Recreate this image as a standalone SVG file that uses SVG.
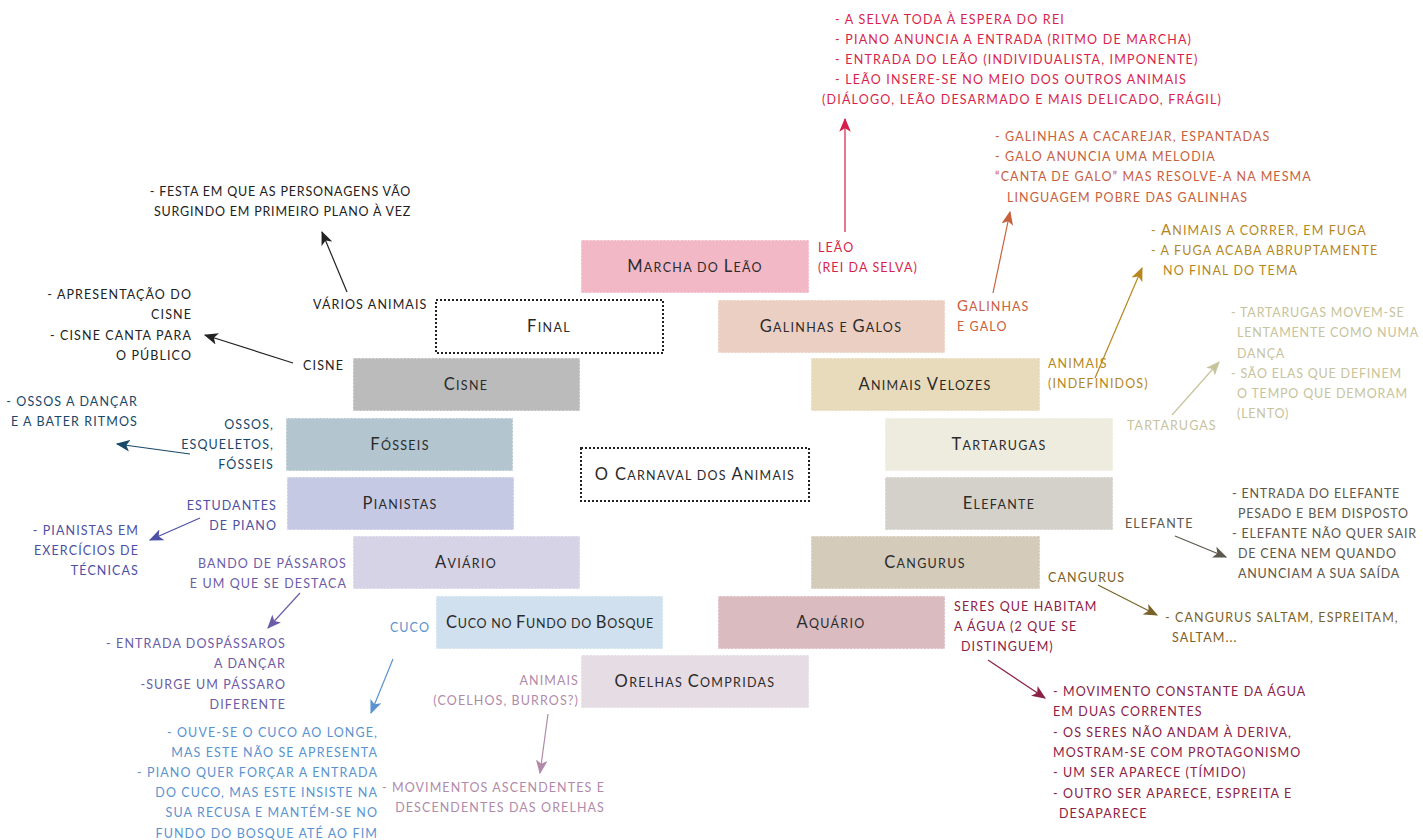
<svg xmlns="http://www.w3.org/2000/svg" width="1423" height="840" viewBox="0 0 1423 840">
<style>
.t{font-family:Lato,"Open Sans","Liberation Sans",sans-serif;font-size:12.5px;letter-spacing:1.1px}
.tn{letter-spacing:0.8px}
.e{text-anchor:end}
.n{font-family:Lato,"Open Sans","Liberation Sans",sans-serif;font-size:12.5px;letter-spacing:1.3px;fill:#2b2b2b;text-anchor:middle}
.b{font-size:16.5px}
.bs{font-size:15px}
.box{stroke:#fff;stroke-opacity:.6;stroke-width:1.5;stroke-dasharray:2 1.5}
.dot{fill:#fff;stroke:#222;stroke-width:2;stroke-dasharray:2 2}
.c line{stroke-width:1.2;fill:none}
</style>
<defs>
<marker id="m1" viewBox="0 0 12 10" refX="11" refY="5" markerWidth="14" markerHeight="12" markerUnits="userSpaceOnUse" orient="auto"><path d="M0,0 L12,5 L0,10 L3,5 z" fill="#d81f4c"/></marker>
<marker id="m2" viewBox="0 0 12 10" refX="11" refY="5" markerWidth="14" markerHeight="12" markerUnits="userSpaceOnUse" orient="auto"><path d="M0,0 L12,5 L0,10 L3,5 z" fill="#c8603e"/></marker>
<marker id="m3" viewBox="0 0 12 10" refX="11" refY="5" markerWidth="14" markerHeight="12" markerUnits="userSpaceOnUse" orient="auto"><path d="M0,0 L12,5 L0,10 L3,5 z" fill="#222"/></marker>
<marker id="m4" viewBox="0 0 12 10" refX="11" refY="5" markerWidth="14" markerHeight="12" markerUnits="userSpaceOnUse" orient="auto"><path d="M0,0 L12,5 L0,10 L3,5 z" fill="#17486a"/></marker>
<marker id="m5" viewBox="0 0 12 10" refX="11" refY="5" markerWidth="14" markerHeight="12" markerUnits="userSpaceOnUse" orient="auto"><path d="M0,0 L12,5 L0,10 L3,5 z" fill="#4b50a4"/></marker>
<marker id="m6" viewBox="0 0 12 10" refX="11" refY="5" markerWidth="14" markerHeight="12" markerUnits="userSpaceOnUse" orient="auto"><path d="M0,0 L12,5 L0,10 L3,5 z" fill="#6c5ca8"/></marker>
<marker id="m7" viewBox="0 0 12 10" refX="11" refY="5" markerWidth="14" markerHeight="12" markerUnits="userSpaceOnUse" orient="auto"><path d="M0,0 L12,5 L0,10 L3,5 z" fill="#5a93cf"/></marker>
<marker id="m8" viewBox="0 0 12 10" refX="11" refY="5" markerWidth="14" markerHeight="12" markerUnits="userSpaceOnUse" orient="auto"><path d="M0,0 L12,5 L0,10 L3,5 z" fill="#b18aaa"/></marker>
<marker id="m9" viewBox="0 0 12 10" refX="11" refY="5" markerWidth="14" markerHeight="12" markerUnits="userSpaceOnUse" orient="auto"><path d="M0,0 L12,5 L0,10 L3,5 z" fill="#8c2146"/></marker>
<marker id="m10" viewBox="0 0 12 10" refX="11" refY="5" markerWidth="14" markerHeight="12" markerUnits="userSpaceOnUse" orient="auto"><path d="M0,0 L12,5 L0,10 L3,5 z" fill="#7b6229"/></marker>
<marker id="m11" viewBox="0 0 12 10" refX="11" refY="5" markerWidth="14" markerHeight="12" markerUnits="userSpaceOnUse" orient="auto"><path d="M0,0 L12,5 L0,10 L3,5 z" fill="#5d584c"/></marker>
<marker id="m12" viewBox="0 0 12 10" refX="11" refY="5" markerWidth="14" markerHeight="12" markerUnits="userSpaceOnUse" orient="auto"><path d="M0,0 L12,5 L0,10 L3,5 z" fill="#c7c39b"/></marker>
<marker id="m13" viewBox="0 0 12 10" refX="11" refY="5" markerWidth="14" markerHeight="12" markerUnits="userSpaceOnUse" orient="auto"><path d="M0,0 L12,5 L0,10 L3,5 z" fill="#b5871e"/></marker>
</defs>
<rect width="1423" height="840" fill="#fff"/>

<g id="connectors" class="c">
<line x1="845" y1="232" x2="845" y2="119" stroke="#d81f4c" marker-end="url(#m1)"/>
<line x1="993" y1="293" x2="1010" y2="212" stroke="#c8603e" marker-end="url(#m2)"/>
<line x1="347" y1="292" x2="322" y2="232" stroke="#222" marker-end="url(#m3)"/>
<line x1="293" y1="363" x2="205" y2="335" stroke="#222" marker-end="url(#m3)"/>
<line x1="190" y1="454" x2="117" y2="444" stroke="#17486a" marker-end="url(#m4)"/>
<line x1="200" y1="518" x2="150" y2="540" stroke="#4b50a4" marker-end="url(#m5)"/>
<line x1="300" y1="593" x2="268" y2="628" stroke="#6c5ca8" marker-end="url(#m6)"/>
<line x1="393" y1="659" x2="371" y2="713" stroke="#5a93cf" marker-end="url(#m7)"/>
<line x1="548" y1="714" x2="540" y2="773" stroke="#b18aaa" marker-end="url(#m8)"/>
<line x1="988" y1="660" x2="1045" y2="698" stroke="#8c2146" marker-end="url(#m9)"/>
<line x1="1098" y1="585" x2="1157" y2="615" stroke="#7b6229" marker-end="url(#m10)"/>
<line x1="1175" y1="536" x2="1226" y2="557" stroke="#5d584c" marker-end="url(#m11)"/>
<line x1="1172" y1="415" x2="1219" y2="362" stroke="#c7c39b" marker-end="url(#m12)"/>
<line x1="1095" y1="378" x2="1142" y2="268" stroke="#b5871e" marker-end="url(#m13)"/>
</g>

<g id="n-marcha">
<rect class="box" x="581" y="240" width="228" height="53" fill="#f3b8c6"/>
<text class="n" x="695" y="272"><tspan class="b">M</tspan>ARCHA DO <tspan class="b">L</tspan>EÃO</text>
<text class="t" fill="#d81f4c"><tspan x="818" y="252">LEÃO</tspan><tspan x="818" y="272">(REI DA SELVA)</tspan></text>
<text class="t" fill="#d81f4c" style="letter-spacing:1.2px"><tspan x="835" y="24">- A SELVA TODA À ESPERA DO REI</tspan><tspan x="835" y="44">- PIANO ANUNCIA A ENTRADA (RITMO DE MARCHA)</tspan><tspan x="835" y="64">- ENTRADA DO LEÃO (INDIVIDUALISTA, IMPONENTE)</tspan><tspan x="835" y="84">- LEÃO INSERE-SE NO MEIO DOS OUTROS ANIMAIS</tspan><tspan x="822" y="104">(DIÁLOGO, LEÃO DESARMADO E MAIS DELICADO, FRÁGIL)</tspan></text>
</g>

<g id="n-final">
<rect class="dot" x="436" y="300" width="227" height="53"/>
<text class="n" x="549" y="332"><tspan class="b">F</tspan>INAL</text>
<text class="t" fill="#222"><tspan x="313" y="309">VÁRIOS ANIMAIS</tspan></text>
<text class="t e tn" fill="#222"><tspan x="411" y="196">- FESTA EM QUE AS PERSONAGENS VÃO</tspan><tspan x="411" y="216">SURGINDO EM PRIMEIRO PLANO À VEZ</tspan></text>
</g>

<g id="n-galinhas">
<rect class="box" x="718" y="300" width="227" height="53" fill="#ebcfc3"/>
<text class="n" x="831" y="332"><tspan class="b">G</tspan>ALINHAS E <tspan class="b">G</tspan>ALOS</text>
<text class="t" fill="#c8603e"><tspan x="957" y="311"><tspan class="bs">G</tspan>ALINHAS</tspan><tspan x="957" y="331">E GALO</tspan></text>
<text class="t" fill="#c8603e"><tspan x="995" y="141">- GALINHAS A CACAREJAR, ESPANTADAS</tspan><tspan x="995" y="161">- GALO ANUNCIA UMA MELODIA</tspan><tspan x="995" y="181">“CANTA DE GALO” MAS RESOLVE-A NA MESMA</tspan><tspan x="1007" y="202">LINGUAGEM POBRE DAS GALINHAS</tspan></text>
</g>

<g id="n-cisne">
<rect class="box" x="353" y="358" width="227" height="53" fill="#bbbbbb"/>
<text class="n" x="466" y="390"><tspan class="b">C</tspan>ISNE</text>
<text class="t e" fill="#222"><tspan x="344" y="370">CISNE</tspan></text>
<text class="t e" fill="#222"><tspan x="192" y="299">- APRESENTAÇÃO DO</tspan><tspan x="192" y="319">CISNE</tspan><tspan x="192" y="340">- CISNE CANTA PARA</tspan><tspan x="192" y="360">O PÚBLICO</tspan></text>
</g>

<g id="n-velozes">
<rect class="box" x="811" y="358" width="229" height="53" fill="#e8dbbb"/>
<text class="n" x="925" y="390"><tspan class="b">A</tspan>NIMAIS <tspan class="b">V</tspan>ELOZES</text>
<text class="t" fill="#b5871e"><tspan x="1048" y="368">ANIMAIS</tspan><tspan x="1048" y="388">(INDEFINIDOS)</tspan></text>
<text class="t" fill="#b5871e"><tspan x="1151" y="235">- <tspan class="bs">A</tspan>NIMAIS A CORRER, EM FUGA</tspan><tspan x="1151" y="255">- A FUGA ACABA ABRUPTAMENTE</tspan><tspan x="1163" y="275">NO FINAL DO TEMA</tspan></text>
</g>

<g id="n-fosseis">
<rect class="box" x="286" y="418" width="227" height="53" fill="#b3c5cf"/>
<text class="n" x="400" y="450"><tspan class="b">F</tspan>ÓSSEIS</text>
<text class="t e" fill="#17486a"><tspan x="274" y="429">OSSOS,</tspan><tspan x="274" y="449">ESQUELETOS,</tspan><tspan x="274" y="469">FÓSSEIS</tspan></text>
<text class="t e" fill="#17486a"><tspan x="138" y="406">- OSSOS A DANÇAR</tspan><tspan x="138" y="426">E A BATER RITMOS</tspan></text>
</g>

<g id="n-tartarugas">
<rect class="box" x="885" y="418" width="228" height="53" fill="#eeecdf"/>
<text class="n" x="999" y="450"><tspan class="b">T</tspan>ARTARUGAS</text>
<text class="t" fill="#c7c39b"><tspan x="1127" y="430">TARTARUGAS</tspan></text>
<text class="t tn" fill="#c7c39b"><tspan x="1231" y="317">- TARTARUGAS MOVEM-SE</tspan><tspan x="1237" y="337">LENTAMENTE COMO NUMA</tspan><tspan x="1237" y="358">DANÇA</tspan><tspan x="1231" y="378">- SÃO ELAS QUE DEFINEM</tspan><tspan x="1237" y="398">O TEMPO QUE DEMORAM</tspan><tspan x="1237" y="418">(LENTO)</tspan></text>
</g>

<g id="n-carnaval">
<rect class="dot" x="581" y="448" width="228" height="53"/>
<text class="n" x="695" y="480"><tspan class="b">O C</tspan>ARNAVAL DOS <tspan class="b">A</tspan>NIMAIS</text>
</g>

<g id="n-pianistas">
<rect class="box" x="287" y="477" width="227" height="53" fill="#c5c9e3"/>
<text class="n" x="400" y="509"><tspan class="b">P</tspan>IANISTAS</text>
<text class="t e" fill="#4b50a4"><tspan x="277" y="510">ESTUDANTES</tspan><tspan x="277" y="530">DE PIANO</tspan></text>
<text class="t e" fill="#4b50a4"><tspan x="139" y="535">- PIANISTAS EM</tspan><tspan x="139" y="555">EXERCÍCIOS DE</tspan><tspan x="139" y="575">TÉCNICAS</tspan></text>
</g>

<g id="n-elefante">
<rect class="box" x="885" y="477" width="228" height="53" fill="#d4d1ca"/>
<text class="n" x="999" y="509"><tspan class="b">E</tspan>LEFANTE</text>
<text class="t" fill="#5d584c"><tspan x="1125" y="528">ELEFANTE</tspan></text>
<text class="t tn" fill="#5d584c"><tspan x="1232" y="498">- ENTRADA DO ELEFANTE</tspan><tspan x="1238" y="518">PESADO E BEM DISPOSTO</tspan><tspan x="1232" y="538">- ELEFANTE NÃO QUER SAIR</tspan><tspan x="1238" y="558">DE CENA NEM QUANDO</tspan><tspan x="1238" y="578">ANUNCIAM A SUA SAÍDA</tspan></text>
</g>

<g id="n-aviario">
<rect class="box" x="353" y="536" width="227" height="53" fill="#d5d3e5"/>
<text class="n" x="466" y="568"><tspan class="b">A</tspan>VIÁRIO</text>
<text class="t e" fill="#6c5ca8"><tspan x="347" y="568">BANDO DE PÁSSAROS</tspan><tspan x="347" y="588">E UM QUE SE DESTACA</tspan></text>
<text class="t e" fill="#6c5ca8"><tspan x="286" y="648">- ENTRADA DOSPÁSSAROS</tspan><tspan x="286" y="668">A DANÇAR</tspan><tspan x="286" y="689">-SURGE UM PÁSSARO</tspan><tspan x="286" y="709">DIFERENTE</tspan></text>
</g>

<g id="n-cangurus">
<rect class="box" x="811" y="536" width="229" height="53" fill="#d5cbbb"/>
<text class="n" x="925" y="568"><tspan class="b">C</tspan>ANGURUS</text>
<text class="t" fill="#7b6229"><tspan x="1048" y="582">CANGURUS</tspan></text>
<text class="t" fill="#7b6229"><tspan x="1165" y="622">- CANGURUS SALTAM, ESPREITAM,</tspan><tspan x="1172" y="642">SALTAM...</tspan></text>
</g>

<g id="n-cuco">
<rect class="box" x="436" y="596" width="227" height="53" fill="#d0e0ee"/>
<text class="n" x="550" y="628" style="letter-spacing:0.7px"><tspan class="b">C</tspan>UCO NO <tspan class="b">F</tspan>UNDO DO <tspan class="b">B</tspan>OSQUE</text>
<text class="t e" fill="#5a93cf"><tspan x="430" y="632">CUCO</tspan></text>
<text class="t e" fill="#5a93cf"><tspan x="378" y="737">- OUVE-SE O CUCO AO LONGE,</tspan><tspan x="378" y="757">MAS ESTE NÃO SE APRESENTA</tspan><tspan x="378" y="777">- PIANO QUER FORÇAR A ENTRADA</tspan><tspan x="378" y="797">DO CUCO, MAS ESTE INSISTE NA</tspan><tspan x="378" y="817">SUA RECUSA E MANTÉM-SE NO</tspan><tspan x="378" y="838">FUNDO DO BOSQUE ATÉ AO FIM</tspan></text>
</g>

<g id="n-aquario">
<rect class="box" x="718" y="596" width="227" height="53" fill="#dabbc0"/>
<text class="n" x="831" y="628"><tspan class="b">A</tspan>QUÁRIO</text>
<text class="t" fill="#8c2146"><tspan x="954" y="611">SERES QUE HABITAM</tspan><tspan x="954" y="631">A ÁGUA (2 QUE SE</tspan><tspan x="961" y="651">DISTINGUEM)</tspan></text>
<text class="t" fill="#8c2146"><tspan x="1053" y="696">- MOVIMENTO CONSTANTE DA ÁGUA</tspan><tspan x="1053" y="716">EM DUAS CORRENTES</tspan><tspan x="1053" y="737">- OS SERES NÃO ANDAM À DERIVA,</tspan><tspan x="1053" y="757">MOSTRAM-SE COM PROTAGONISMO</tspan><tspan x="1053" y="777">- UM SER APARECE (TÍMIDO)</tspan><tspan x="1053" y="798">- OUTRO SER APARECE, ESPREITA E</tspan><tspan x="1059" y="818">DESAPARECE</tspan></text>
</g>

<g id="n-orelhas">
<rect class="box" x="581" y="655" width="228" height="53" fill="#e6dce4"/>
<text class="n" x="695" y="687"><tspan class="b">O</tspan>RELHAS <tspan class="b">C</tspan>OMPRIDAS</text>
<text class="t e" fill="#b18aaa"><tspan x="579" y="685">ANIMAIS</tspan><tspan x="579" y="705">(COELHOS, BURROS?)</tspan></text>
<text class="t e" fill="#b18aaa"><tspan x="605" y="792">- MOVIMENTOS ASCENDENTES E</tspan><tspan x="605" y="812">DESCENDENTES DAS ORELHAS</tspan></text>
</g>
</svg>
